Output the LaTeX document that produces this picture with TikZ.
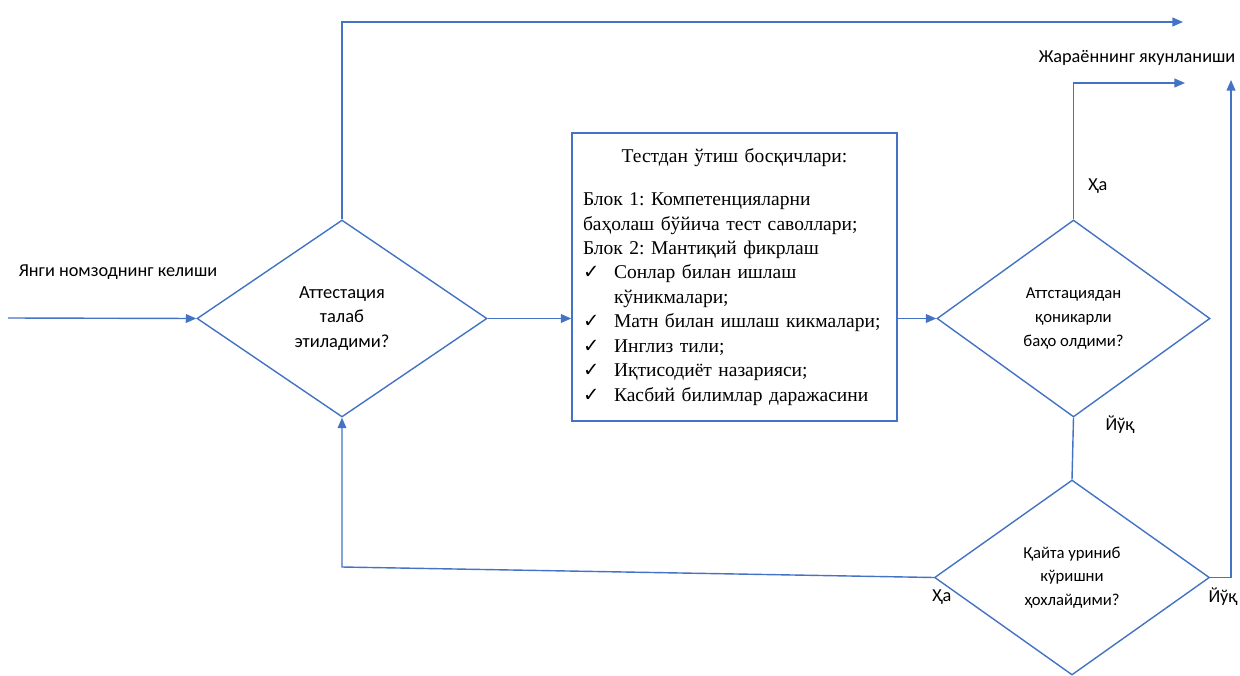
\documentclass[tikz,border=0pt]{standalone}
\usepackage{fontspec}
\setmainfont{Liberation Serif}
\newfontfamily\calibri{Carlito}
\newfontfamily\symfont{DejaVu Sans}
\usetikzlibrary{shapes.geometric,arrows.meta}
\definecolor{lineblue}{RGB}{68,114,196}
\newcommand{\itemtick}{\makebox[0.62cm][l]{\symfont ✓}}
\frenchspacing

\begin{document}
\begin{tikzpicture}[line width=0.8pt,
	decision/.style={diamond, draw=lineblue, inner sep=0pt, align=center, font=\calibri\fontsize{9.5}{13.5}\selectfont},
	flow/.style={draw=lineblue, -{Triangle[length=6pt,width=5pt]}},
	tag/.style={font=\calibri\fontsize{10.4}{12}\selectfont}]
	\useasboundingbox (0,0) rectangle (24.8,13.5);
	% decisions and the test block
	\node[decision, minimum width=5.8cm, minimum height=3.94cm, font=\calibri\fontsize{10.5}{14}\selectfont] (A) at (6.84, 7.13) {Аттестация\\талаб\\этиладими?};
	\node[draw=lineblue, inner xsep=0.22cm, text width=6.06cm, minimum height=5.76cm, font=\fontsize{11.1}{13.9}\selectfont] (B) at (14.69, 7.96) {%
		{\centering Тестдан ўтиш босқичлари:\par}
		\vspace{0.37cm}
		Блок 1: Компетенцияларни\\
		баҳолаш бўйича тест саволлари;\\
		Блок 2: Мантиқий фикрлаш\\
		\itemtick Сонлар билан ишлаш\\
		\hspace*{0.62cm}кўникмалари;\\
		\itemtick Матн билан ишлаш кикмалари;\\
		\itemtick Инглиз тили;\\
		\itemtick Иқтисодиёт назарияси;\\
		\itemtick Касбий билимлар даражасини};
	\node[decision, minimum width=5.46cm, minimum height=3.94cm] (C) at (21.47, 7.13) {Аттстациядан\\қоникарли\\баҳо олдими?};
	\node[decision, minimum width=5.5cm, minimum height=3.9cm] (D) at (21.44, 1.95) {Қайта уриниб\\кўришни\\ҳохлайдими?};
	% texts
	\node[tag] (start) at (2.36, 8.06) {Янги номзоднинг келиши};
	\node[tag] (finish) at (22.74, 12.34) {Жараённинг якунланиши};
	\node[tag] (yes1) at (21.96, 9.78) {Ҳа};
	\node[tag] (no1) at (22.4, 5.0) {Йўқ};
	\node[tag] (yes2) at (18.84, 1.56) {Ҳа};
	\node[tag] (no2) at (24.46, 1.56) {Йўқ};
	% loose ends
	\coordinate (in) at (0.16, 7.14);
	\coordinate (out1) at (23.66, 13.06);
	\coordinate (out2) at (23.7, 11.84);
	\coordinate (out3) at (24.62, 11.9);
	\coordinate (back) at (6.84, 2.16);
	% connectors
	\draw[flow] (in) -- (A.west);
	\draw[flow] (A.north) |- (out1);
	\draw[flow] (A.east) -- (A.east -| B.west);
	\draw[flow] (B.east |- C.west) -- (C.west);
	\draw[flow] (C.north) |- (out2);
	\draw[lineblue] (C.south) -- (D.north);
	\draw[flow] (D.east) -| (out3);
	\draw[flow] (D.west) -- (back) -- (A.south);
\end{tikzpicture}
\end{document}
